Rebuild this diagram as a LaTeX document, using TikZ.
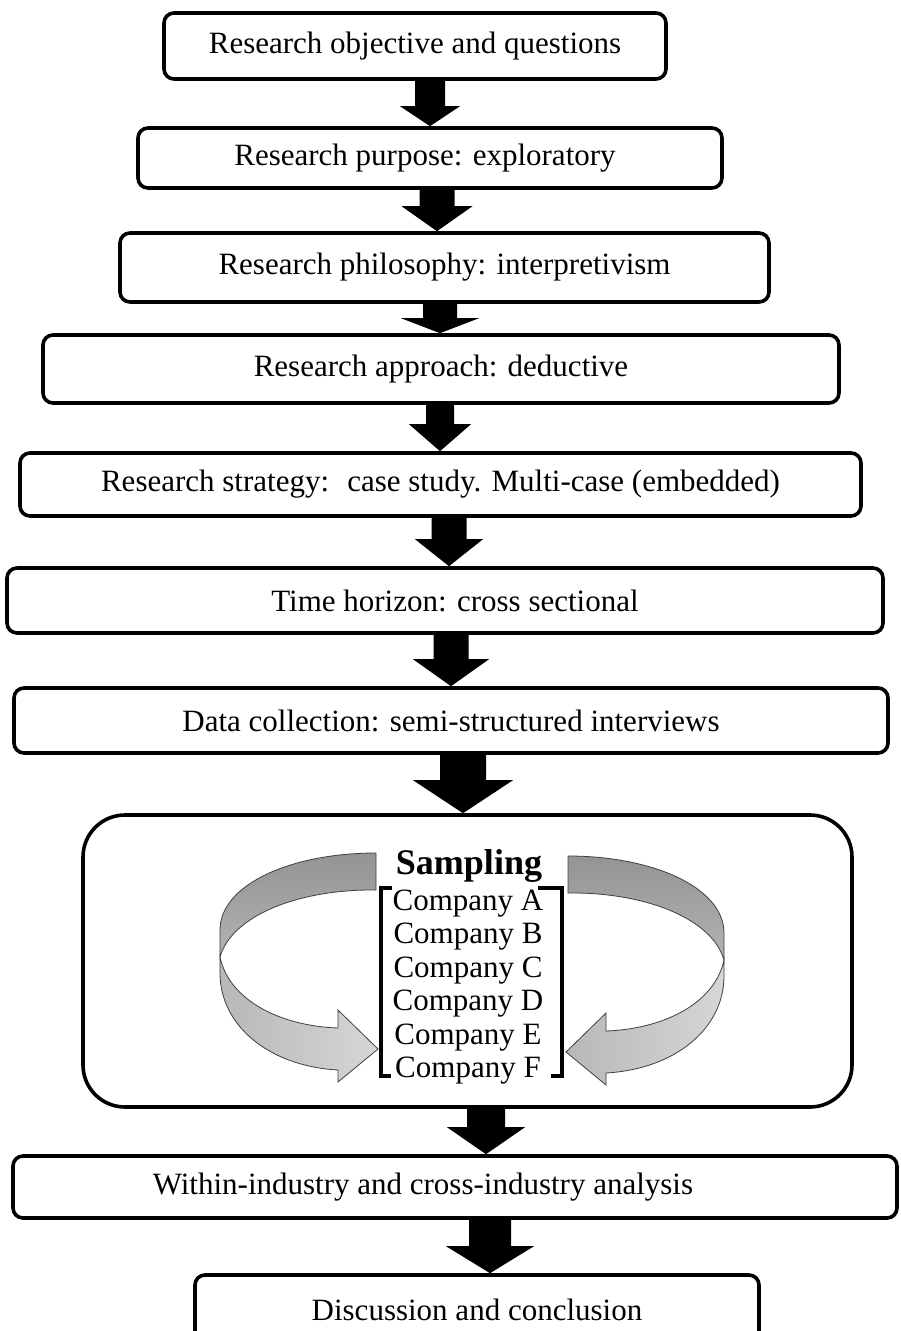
\documentclass[tikz,border=0pt]{standalone}
\usepackage{fontspec}
\setmainfont{Liberation Serif}
\usetikzlibrary{calc}
\tikzset{
  stagebox/.style={draw=black, line width=3.6pt, rounded corners=10pt, fill=white, inner sep=0pt,
    font=\fontsize{31}{33}\selectfont, align=center},
  listtext/.style={inner sep=0pt, font=\fontsize{31}{33}\selectfont},
  titletext/.style={inner sep=0pt, font=\bfseries\fontsize{36}{38}\selectfont},
  bracketline/.style={line width=3.5pt, line join=miter},
  bandback/.style={draw=black!75, line width=0.8pt, top color=black!42, bottom color=black!30},
  bandfront/.style={draw=black!75, line width=0.8pt, left color=black!28, right color=black!16},
}
\newcommand\blockarrow[6]{%
  \fill[black] let \p1=(#1 -| #3), \p2=(#2 -| #3) in
   (\x1-#4,\y1) -- (\x1+#4,\y1) -- (\x1+#4,\y2+#6) -- (\x1+#5,\y2+#6) -- (\x2,\y2)
   -- (\x1-#5,\y2+#6) -- (\x1-#4,\y2+#6) -- cycle;}
\newcommand\ribbonarrow{%
  \path[bandback] (376,853) .. controls (290,853) and (220,885) .. (220,930) -- (220,957)
     .. controls (232,915) and (300,889) .. (376,890) -- cycle;
  \path[bandfront] (220,957) .. controls (229,1000) and (280,1026) .. (338,1028) -- (338,1010)
     -- (378,1049) -- (338,1082) -- (338,1070) .. controls (268,1066) and (220,1025) .. (220,973) -- cycle;
}
\begin{document}
\begin{tikzpicture}[x=1pt,y=-1pt]
\useasboundingbox (0,0) rectangle (901,1331);
\fill[white] (0,0) rectangle (901,1331);

\node[stagebox, minimum width=502pt, minimum height=66pt] (b1) at (415,46) {Research objective and questions};
\node[stagebox, minimum width=584pt, minimum height=60pt] (b2) at (430,158) {Research purpose: exploratory\hspace*{10pt}};
\node[stagebox, minimum width=649pt, minimum height=69pt] (b3) at (444.5,267.5) {Research philosophy: interpretivism};
\node[stagebox, minimum width=796pt, minimum height=68pt] (b4) at (441,369) {Research approach: deductive};
\node[stagebox, minimum width=841pt, minimum height=63pt] (b5) at (440.5,484.5) {Research strategy: \ case study. Multi-case (embedded)};
\node[stagebox, minimum width=876pt, minimum height=65pt] (b6) at (445,600.5) {\hspace*{20pt}Time horizon: cross sectional};
\node[stagebox, minimum width=874pt, minimum height=65pt] (b7) at (451,720.5) {Data collection: semi-structured interviews};
\node[stagebox, rounded corners=42pt, minimum width=769pt, minimum height=292pt] (samp) at (467.5,961) {};
\node[stagebox, minimum width=884pt, minimum height=62pt] (b9) at (455,1187) {Within-industry and cross-industry analysis\hspace*{64pt}};
\node[stagebox, minimum width=564pt, minimum height=70pt] (b10) at (477,1310) {Discussion and conclusion};

% sampling content
\node[titletext] (stitle) at (469,866) {Sampling};
\foreach \l [count=\i] in {A,B,C,D,E,F}
  \node[listtext, anchor=base] (c\l) at (468,877+33.4*\i) {Company \l};
\draw[bracketline] (392,888) -- (381,888) -- (381,1076) -- (391,1076);
\draw[bracketline] (538,888) -- (562,888) -- (562,1076) -- (551,1076);

% curved arrows
\begin{scope}
  \ribbonarrow
\end{scope}
\begin{scope}[shift={(944,3)}, xscale=-1]
  \ribbonarrow
\end{scope}

% block arrows
\coordinate (ax1) at (430,0);
\coordinate (ax2) at (437,0);
\coordinate (ax3) at (440,0);
\coordinate (ax4) at (440,0);
\coordinate (ax5) at (449,0);
\coordinate (ax6) at (451,0);
\coordinate (ax7) at (463,0);
\coordinate (ax8) at (486,0);
\coordinate (ax9) at (490,0);
\blockarrow{b1.south}{b2.north}{ax1}{15}{30}{20}
\blockarrow{b2.south}{b3.north}{ax2}{17.5}{35.5}{25}
\blockarrow{b3.south}{b4.north}{ax3}{17}{39}{15}
\blockarrow{b4.south}{b5.north}{ax4}{14}{31}{27}
\blockarrow{b5.south}{b6.north}{ax5}{17.5}{34}{27}
\blockarrow{b6.south}{b7.north}{ax6}{17.5}{38}{27}
\blockarrow{b7.south}{samp.north}{ax7}{23}{50}{33}
\blockarrow{samp.south}{b9.north}{ax8}{19}{39}{27}
\blockarrow{b9.south}{b10.north}{ax9}{21}{44}{27}
\end{tikzpicture}
\end{document}
